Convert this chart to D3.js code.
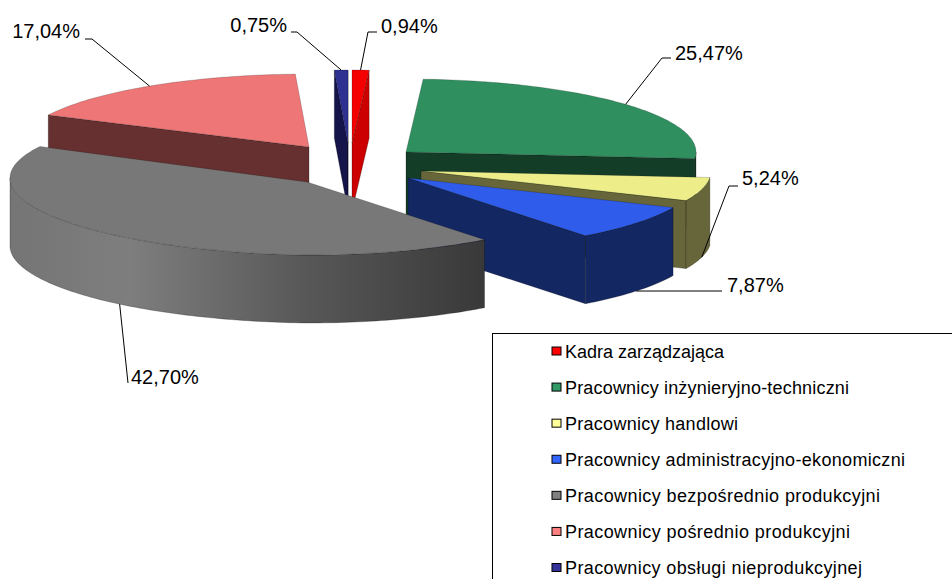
<!DOCTYPE html>
<html>
<head>
<meta charset="utf-8">
<script src="https://cdn.jsdelivr.net/npm/d3@7/dist/d3.min.js"></script>
<style>
  html, body { margin: 0; padding: 0; background: #fff; overflow: hidden; }
  svg { display: block; }
  text { font-family: "Liberation Sans", Arial, sans-serif; fill: #000; }
</style>
</head>
<body>
<svg id="chart" width="952" height="579"></svg>
<script>
// Workforce structure, in percent, clockwise from twelve o'clock
const categories = [
  "Kadra zarządzająca",
  "Pracownicy inżynieryjno-techniczni",
  "Pracownicy handlowi",
  "Pracownicy administracyjno-ekonomiczni",
  "Pracownicy bezpośrednio produkcyjni",
  "Pracownicy pośrednio produkcyjni",
  "Pracownicy obsługi nieprodukcyjnej"
];
const shares = [0.94, 25.47, 5.24, 7.87, 42.70, 17.04, 0.75];

const legendColors = ["#ff0000", "#339966", "#ffff99", "#3366ff", "#808080", "#ff8080", "#333399"];
const topColors    = ["#f50000", "#2f8f5f", "#eded8a", "#2f5cea", "#787878", "#ee7676", "#2e3192"];
const wallColors   = ["#cc0000", "#143d28", "#66663a", "#132763", "url(#grayWall)", "#663030", "#14144a"];

// Exploded position of every slice's tip
const tipX = [352, 406, 421, 408, 307, 309, 348];
const tipY = [143, 152, 171, 178, 182, 147, 143];

// Pie geometry: ellipse radii and height of the extrusion
const radiusX = 290, radiusY = 73, depth = 68;
// The large front slice bulges a little further out on its left side
const leftBulge = [0, 0, 0, 0, 7, 0, 0];
const leftLift  = [0, 0, 0, 0, 4, 0, 0];
const drawOrder = [5, 6, 0, 1, 2, 3, 4];

// Where each callout bends and where its text begins
const calloutBendX = [368, 662, 729, 660, 128, 92, 297];
const calloutBendY = [32, 58, 186, 291, 383, 39, 32];
const calloutEndX  = [377, 671, 738, 722, 128, 85, 291];
const labelX = [381, 675, 742, 727, 131, 80, 287];
const labelY = [26, 53, 178, 285, 377, 31, 25];
const labelAnchor = ["start", "start", "start", "start", "start", "end", "end"];
const legendTextWidth = [159, 284, 173, 340, 315, 285, 297];

const svg = d3.select("#chart");
const defs = svg.append("defs");
const grad = defs.append("linearGradient").attr("id", "grayWall")
  .attr("gradientUnits", "userSpaceOnUse")
  .attr("x1", 10).attr("x2", 483).attr("y1", 0).attr("y2", 0);
[[0, "#757575"], [0.25, "#7e7e7e"], [0.62, "#585858"], [1, "#393939"]]
  .forEach(([o, c]) => grad.append("stop").attr("offset", o).attr("stop-color", c));

const slices = d3.pie().sort(null).value(d => d)(shares);
const pathOf = d3.line();

// Screen position of polar angle a (clockwise from top) on slice i's rim
const unitX = i => d3.scaleLinear().domain([-1, 0, 1])
  .range([tipX[i] - radiusX - leftBulge[i], tipX[i], tipX[i] + radiusX]);
const unitY = i => d3.scaleLinear().domain([-1, 1]).range([tipY[i] - radiusY, tipY[i] + radiusY]);
const rim = (i, a, drop = 0) => [
  unitX(i)(Math.sin(a)),
  unitY(i)(-Math.cos(a)) + Math.min(0, Math.sin(a)) * leftLift[i] + drop
];

// Evenly stepped rim angles between a0 and a1, endpoints included
function arcAngles(a0, a1) {
  const n = Math.max(2, Math.ceil((a1 - a0) / 0.02));
  return d3.range(n + 1).map(k => a0 + (a1 - a0) * k / n);
}

const chart = svg.append("g");
drawOrder.forEach(i => {
  const s = slices[i];
  const a0 = s.startAngle, a1 = s.endAngle;
  const tip = [tipX[i], tipY[i]];
  const g = chart.append("g").attr("class", "slice");
  const wall = pts => g.append("path")
    .attr("d", pathOf(pts) + "Z")
    .attr("fill", wallColors[i])
    .attr("stroke", "#000").attr("stroke-opacity", 0.35).attr("stroke-width", 0.7)
    .attr("stroke-linejoin", "round");

  // Cut faces are only seen when they turn toward the viewer
  if (Math.sin(a0) < 0) {
    const p = rim(i, a0);
    wall([tip, p, [p[0], p[1] + depth], [tip[0], tip[1] + depth]]);
  }
  if (Math.sin(a1) > 0) {
    const p = rim(i, a1);
    wall([tip, p, [p[0], p[1] + depth], [tip[0], tip[1] + depth]]);
  }
  // Outer wall: the part of the rim on the near half
  const w0 = Math.max(a0, Math.PI / 2), w1 = Math.min(a1, 3 * Math.PI / 2);
  if (w1 > w0) {
    const angles = arcAngles(w0, w1);
    wall(angles.map(a => rim(i, a)).concat(angles.slice().reverse().map(a => rim(i, a, depth))));
  }
  // Top face
  g.append("path")
    .attr("d", pathOf([tip].concat(arcAngles(a0, a1).map(a => rim(i, a)))) + "Z")
    .attr("fill", topColors[i])
    .attr("stroke", "#000").attr("stroke-opacity", 0.3).attr("stroke-width", 0.6)
    .attr("stroke-linejoin", "round");
});

// Callouts start on the visible rim at the middle of each slice
const callouts = svg.append("g");
slices.forEach((s, i) => {
  const mid = (s.startAngle + s.endAngle) / 2;
  const start = rim(i, mid, Math.cos(mid) < 0 ? depth : 0);
  callouts.append("path")
    .attr("d", pathOf([start, [calloutBendX[i], calloutBendY[i]], [calloutEndX[i], calloutBendY[i]]]))
    .attr("fill", "none").attr("stroke", "#000").attr("stroke-width", 1);
  callouts.append("text")
    .attr("x", labelX[i]).attr("y", labelY[i])
    .attr("dy", "0.35em")
    .attr("text-anchor", labelAnchor[i])
    .attr("font-size", 20)
    .text(d3.format(".2f")(shares[i]).replace(".", ",") + "%");
});

// Legend box runs off the right and bottom edges of the frame
const legend = svg.append("g");
legend.append("rect")
  .attr("x", 492.5).attr("y", 333.5).attr("width", 520).attr("height", 300)
  .attr("fill", "#fff").attr("stroke", "#000").attr("stroke-width", 1);
const rowY = d3.scalePoint().domain(d3.range(categories.length)).range([351.5, 568]);
categories.forEach((name, i) => {
  legend.append("rect")
    .attr("x", 552).attr("y", rowY(i) - 4.5).attr("width", 9).attr("height", 8)
    .attr("fill", legendColors[i]).attr("stroke", "#000").attr("stroke-width", 1);
  legend.append("text")
    .attr("x", 565).attr("y", rowY(i)).attr("dy", "0.35em")
    .attr("font-size", 18)
    .attr("textLength", legendTextWidth[i]).attr("lengthAdjust", "spacing")
    .text(name);
});
</script>
</body>
</html>
